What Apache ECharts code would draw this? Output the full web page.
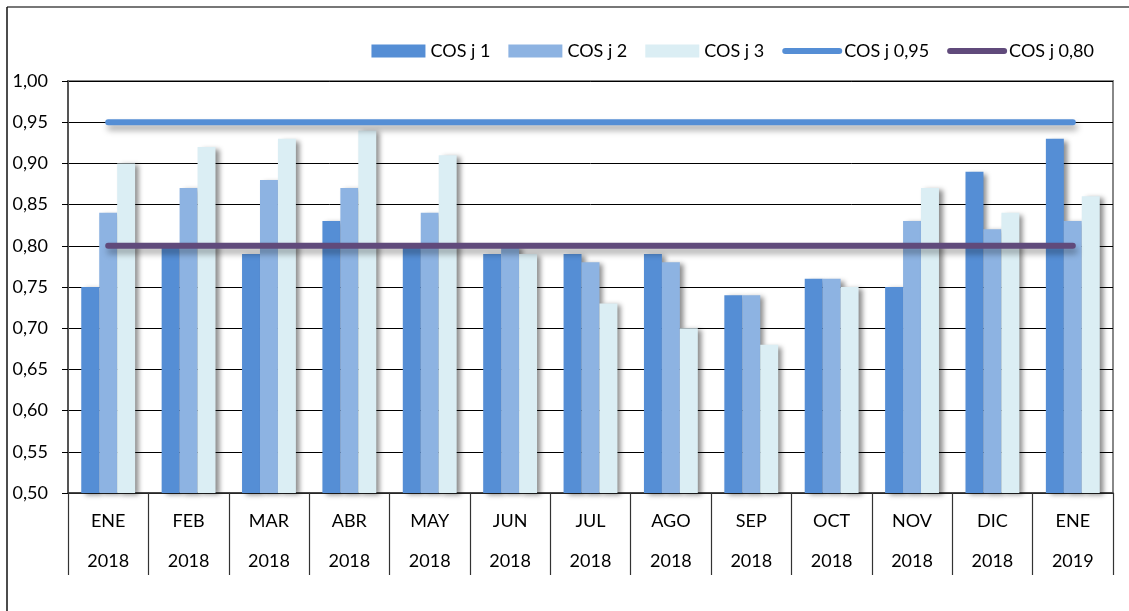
<!DOCTYPE html>
<html>
<head>
<meta charset="utf-8">
<script src="https://cdn.jsdelivr.net/npm/echarts@6/dist/echarts.min.js"></script>
<style>html,body{margin:0;padding:0;background:#fff;}#c{width:1129px;height:611px;}</style>
</head>
<body>
<div id="c"></div>
<script>
const months = ['ENE','FEB','MAR','ABR','MAY','JUN','JUL','AGO','SEP','OCT','NOV','DIC','ENE'];
const years = ['2018','2018','2018','2018','2018','2018','2018','2018','2018','2018','2018','2018','2019'];
const cos1 = [0.75,0.80,0.79,0.83,0.80,0.79,0.79,0.79,0.74,0.76,0.75,0.89,0.93];
const cos2 = [0.84,0.87,0.88,0.87,0.84,0.80,0.78,0.78,0.74,0.76,0.83,0.82,0.83];
const cos3 = [0.90,0.92,0.93,0.94,0.91,0.79,0.73,0.70,0.68,0.75,0.87,0.84,0.86];
const ref95 = [0.95,0.95,0.95,0.95,0.95,0.95,0.95,0.95,0.95,0.95,0.95,0.95,0.95];
const ref80 = [0.80,0.80,0.80,0.80,0.80,0.80,0.80,0.80,0.80,0.80,0.80,0.80,0.80];

const categories = months.map((m,i)=>m+'\n'+years[i]);
const FONT = 'Lato';
const barShadow = {shadowColor:'rgba(0,0,0,0.45)', shadowBlur:5, shadowOffsetX:4, shadowOffsetY:2};
const lineShadow = {shadowColor:'rgba(0,0,0,0.35)', shadowBlur:6, shadowOffsetX:2, shadowOffsetY:5};

const chart = echarts.init(document.getElementById('c'));
chart.setOption({
  backgroundColor:'#fff',
  animation:false,
  textStyle:{fontFamily:FONT},
  graphic:[
    {type:'line', shape:{x1:7,y1:7,x2:1129,y2:7}, style:{stroke:'#777',lineWidth:2}},
    {type:'line', shape:{x1:7,y1:7,x2:7,y2:611}, style:{stroke:'#111',lineWidth:1.5}},
    {type:'rect', shape:{x:68,y:81,width:1045,height:412}, style:{fill:'none',stroke:'#888',lineWidth:2}, z:-1}
  ],
  legend:{
    right:30, top:37, itemWidth:54, itemHeight:13, itemGap:18,
    textStyle:{fontFamily:FONT, fontSize:18, color:'#000'},
    data:[
      {name:'COS j 1', icon:'rect'},
      {name:'COS j 2', icon:'rect'},
      {name:'COS j 3', icon:'rect'},
      {name:'COS j 0,95', itemStyle:{opacity:0}, lineStyle:{width:6, cap:'round', shadowBlur:0, shadowOffsetX:0, shadowOffsetY:0}},
      {name:'COS j 0,80', itemStyle:{opacity:0}, lineStyle:{width:6, cap:'round', shadowBlur:0, shadowOffsetX:0, shadowOffsetY:0}}
    ]
  },
  grid:{left:68, right:16, top:81, bottom:118, containLabel:false},
  xAxis:{
    type:'category', data:categories, boundaryGap:true,
    axisLine:{lineStyle:{color:'#333', width:1.5}},
    axisTick:{show:true, length:82, lineStyle:{color:'#333', width:1.2}},
    axisLabel:{fontFamily:FONT, fontSize:18, color:'#000', lineHeight:40, margin:8, interval:0},
    splitLine:{show:false}
  },
  yAxis:{
    type:'value', min:0.5, max:1.0, interval:0.05,
    axisLine:{show:true, lineStyle:{color:'#555', width:2}},
    axisTick:{show:true, length:6, lineStyle:{color:'#000'}},
    axisLabel:{fontFamily:FONT, fontSize:18, color:'#000', margin:20,
      formatter:v=>v.toFixed(2).replace('.',',')},
    splitLine:{show:true, lineStyle:{color:'#000', width:1}}
  },
  series:[
    {name:'COS j 1', type:'bar', data:cos1, barGap:'0%', barCategoryGap:'33%',
      itemStyle:Object.assign({color:'#558ED5'}, barShadow)},
    {name:'COS j 2', type:'bar', data:cos2, barGap:'0%', barCategoryGap:'33%',
      itemStyle:Object.assign({color:'#8DB3E2'}, barShadow)},
    {name:'COS j 3', type:'bar', data:cos3, barGap:'0%', barCategoryGap:'33%',
      itemStyle:Object.assign({color:'#DBEEF4'}, barShadow)},
    {name:'COS j 0,95', type:'line', data:ref95, symbol:'none', z:5,
      lineStyle:Object.assign({color:'#558ED5', width:6, cap:'round'}, lineShadow),
      itemStyle:{color:'#558ED5'}},
    {name:'COS j 0,80', type:'line', data:ref80, symbol:'none', z:5,
      lineStyle:Object.assign({color:'#604A7B', width:6, cap:'round'}, lineShadow),
      itemStyle:{color:'#604A7B'}}
  ]
});
</script>
</body>
</html>
